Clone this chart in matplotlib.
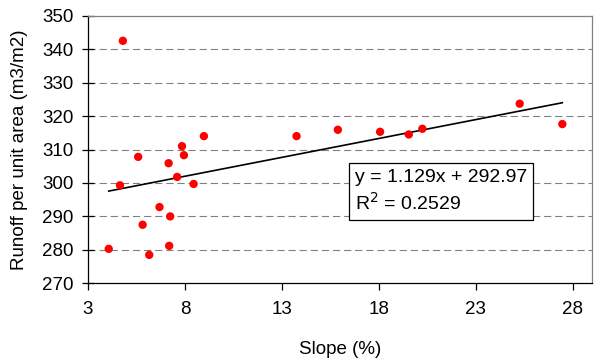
import numpy as np
import matplotlib
matplotlib.use("Agg")
import matplotlib.pyplot as plt

plt.rcParams["font.family"] = ["Liberation Sans", "DejaVu Sans"]

# values
slope_pct = [4.80, 5.59, 7.85, 7.95, 8.98, 7.16, 7.60, 8.45, 4.65, 6.69, 7.24,
             5.82, 4.07, 6.16, 7.19, 13.76, 15.89, 18.07, 19.55, 20.25, 25.27, 27.47]
runoff = [342.5, 307.8, 311.0, 308.3, 314.0, 305.9, 301.8, 299.7, 299.3, 292.8, 290.0,
          287.5, 280.3, 278.5, 281.2, 314.0, 315.9, 315.3, 314.5, 316.2, 323.7, 317.6]
fit_slope = 1.129
fit_intercept = 292.97
r_squared = 0.2529
x_ticks = [3, 8, 13, 18, 23, 28]
y_ticks = [270, 280, 290, 300, 310, 320, 330, 340, 350]

fig = plt.figure(figsize=(5.94, 3.62), dpi=100)
ax = fig.add_axes([0.1481, 0.2174, 0.8485, 0.7392])

# dashed grey horizontal gridlines
for yv in y_ticks[1:-1]:
    ax.axhline(yv, color="#808080", lw=0.8, ls=(0, (6.5, 3.5)), zorder=0)

ax.scatter(slope_pct, runoff, s=36, color="#ff0000", edgecolors="none", zorder=3)

# linear trend line over the data range
xl = np.array([min(slope_pct), max(slope_pct)])
ax.plot(xl, fit_slope * xl + fit_intercept, color="black", lw=1.2, zorder=2)

ax.text(16.75, 297.5,
        "y = %.3fx + %.2f\nR$^2$ = %.4f" % (fit_slope, fit_intercept, r_squared),
        fontsize=14, va="center", ha="left", linespacing=1.35,
        bbox=dict(boxstyle="square,pad=0.3", fc="white", ec="black", lw=0.9),
        zorder=4)

ax.set_xlim(3, 29)
ax.set_ylim(270, 350)
ax.set_xticks(x_ticks)
ax.set_yticks(y_ticks)
ax.tick_params(axis="x", direction="out", length=5, width=0.9, labelsize=13.5, pad=8)
ax.tick_params(axis="y", direction="inout", length=9, width=0.9, labelsize=13.5, pad=6)

for side in ["top", "right"]:
    ax.spines[side].set_color("#808080")
    ax.spines[side].set_linewidth(0.9)
for side in ["left", "bottom"]:
    ax.spines[side].set_color("black")
    ax.spines[side].set_linewidth(0.9)

ax.set_xlabel("Slope (%)", fontsize=13.5, labelpad=16)
ax.set_ylabel("Runoff per unit area (m3/m2)", fontsize=13.5, labelpad=10)

fig.savefig("out.png", dpi=100)
